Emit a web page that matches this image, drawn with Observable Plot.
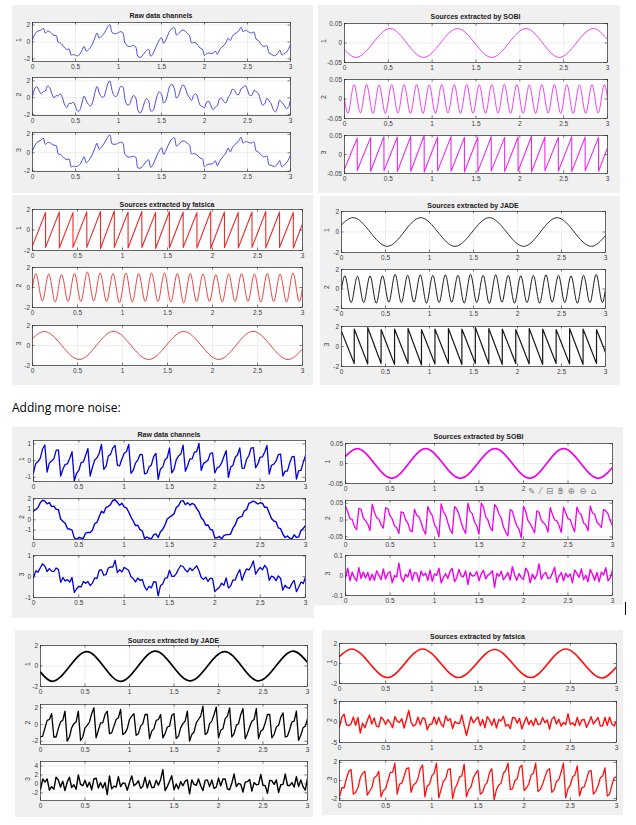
<!DOCTYPE html>
<html><head><meta charset="utf-8">
<script src="https://cdn.jsdelivr.net/npm/d3@7"></script>
<script src="https://cdn.jsdelivr.net/npm/@observablehq/plot@0.6"></script>
<style>
body{margin:0;background:#fff;}
#page{position:relative;width:636px;height:825px;overflow:hidden;font-family:"Liberation Sans",Arial,sans-serif;}
.panel{position:absolute;background:#f0f0f0;}
.title{position:absolute;font-weight:bold;font-size:7px;line-height:9px;color:#1a1a1a;transform:translateX(-50%);white-space:nowrap;}
.note{position:absolute;left:12px;top:399px;font-family:"Open Sans",sans-serif;font-size:12px;color:#000;}
.tools{position:absolute;left:528px;top:486px;font-family:"DejaVu Sans",sans-serif;font-size:8.5px;line-height:10px;color:#808080;letter-spacing:1px;white-space:nowrap;}
.cursor{position:absolute;left:625px;top:602px;width:1px;height:13px;background:#000;}
</style></head><body><div id="page">
<div class="note">Adding more noise:</div>
</div>
<script>
// ---------- shared axes data ----------
const xTicks = [0, 0.5, 1, 1.5, 2, 2.5, 3];
// sample times of the dense traces (every 0.025 s)
const sampleX = Array.from({length: 121}, (_, i) => Math.round(i * 25) / 1000);
// sawtooth jump times
const sawJumps = [0.145,0.298,0.45,0.603,0.756,0.909,1.062,1.215,1.368,1.521,1.674,1.827,1.98,2.133,2.286,2.439,2.592,2.745,2.898];
// slow sine extrema (with ends)
const slowExtX = [0,0.13,0.52,0.9,1.29,1.68,2.07,2.45,2.84,3];
// fast sine extrema (with ends)
const fastExtX = [0,0.038,0.109,0.181,0.252,0.324,0.395,0.466,0.538,0.609,0.680,0.752,0.823,0.895,0.966,1.038,1.109,1.180,1.252,1.323,1.394,1.466,1.537,1.609,1.680,1.752,1.823,1.894,1.966,2.037,2.108,2.180,2.251,2.323,2.394,2.466,2.537,2.608,2.680,2.751,2.823,2.894,2.965,3];

// ---------- top half: raw channels ----------
const raw1 = [0.29,0.87,1.22,1.33,1.41,1.63,1.05,1.27,1.23,0.99,0.79,0.77,-0.06,-0.11,-0.37,-0.71,-0.89,-0.81,-1.54,-1.48,-1.57,-1.63,-1.43,-1.00,-0.52,-1.10,-0.91,-0.64,-0.14,0.50,1.06,0.48,0.66,0.91,1.33,1.79,2.04,1.12,0.99,0.98,1.11,1.22,1.11,-0.11,-0.42,-0.54,-0.48,-0.43,-0.57,-1.70,-1.81,-1.64,-1.30,-1.00,-0.87,-1.68,-1.39,-0.85,-0.24,0.23,0.51,-0.15,0.27,0.84,1.36,1.62,1.67,0.81,1.00,1.28,1.42,1.29,1.01,0.80,-0.11,-0.05,-0.13,-0.41,-0.72,-0.83,-1.59,-1.38,-1.30,-1.35,-1.33,-1.05,-1.45,-0.94,-0.61,-0.40,-0.09,0.44,0.18,0.70,0.96,1.10,1.33,1.73,1.21,1.38,1.28,1.11,1.07,1.18,0.34,0.18,-0.17,-0.46,-0.53,-0.43,-1.28,-1.41,-1.59,-1.61,-1.36,-0.96,-1.54,-1.38,-1.23,-0.87,-0.29];
const raw2 = [0.11,1.05,1.32,0.89,0.47,0.72,0.81,1.40,1.21,0.48,0.00,0.26,0.21,0.46,-0.05,-0.85,-1.15,-0.67,-0.68,-0.53,-1.05,-1.60,-1.46,-0.62,0.20,-0.36,-0.77,-0.99,-0.46,0.58,1.33,0.60,0.15,0.07,0.71,1.62,1.99,0.88,0.24,0.15,0.71,1.33,1.29,-0.14,-0.83,-0.81,-0.20,0.27,0.01,-1.41,-1.83,-1.44,-0.60,-0.11,-0.35,-1.55,-1.53,-0.74,0.26,0.70,0.43,-0.62,-0.32,0.60,1.45,1.57,1.05,-0.03,0.30,1.08,1.54,1.20,0.43,0.03,-0.32,0.31,0.45,-0.14,-0.90,-1.05,-1.18,-0.50,-0.42,-0.95,-1.41,-1.12,-0.91,-0.12,-0.06,-0.47,-0.60,0.04,0.38,1.02,0.88,0.41,0.39,1.08,1.23,1.45,0.93,0.29,0.28,0.88,0.72,0.53,-0.25,-0.86,-0.72,-0.06,-0.36,-0.70,-1.40,-1.67,-1.14,-0.27,-0.55,-0.85,-1.29,-1.12,-0.24];
const raw3 = [0.20,0.73,1.09,1.25,1.38,1.60,0.90,1.10,1.10,0.94,0.80,0.79,-0.15,-0.19,-0.39,-0.64,-0.76,-0.69,-1.54,-1.47,-1.50,-1.48,-1.28,-0.88,-0.44,-1.11,-0.87,-0.57,-0.09,0.50,1.03,0.37,0.60,0.88,1.27,1.69,1.94,0.97,0.92,0.93,1.05,1.15,1.07,-0.17,-0.40,-0.49,-0.44,-0.40,-0.49,-1.64,-1.69,-1.53,-1.22,-0.93,-0.76,-1.61,-1.31,-0.81,-0.24,0.22,0.53,-0.18,0.23,0.75,1.23,1.51,1.62,0.71,0.90,1.15,1.28,1.21,1.01,0.86,-0.15,-0.10,-0.16,-0.37,-0.59,-0.66,-1.54,-1.35,-1.25,-1.24,-1.16,-0.87,-1.42,-0.95,-0.61,-0.34,-0.01,0.50,0.08,0.57,0.87,1.06,1.32,1.68,1.03,1.21,1.17,1.07,1.07,1.16,0.21,0.09,-0.17,-0.39,-0.44,-0.36,-1.31,-1.38,-1.49,-1.46,-1.22,-0.86,-1.55,-1.35,-1.14,-0.78,-0.24];

// ---------- top half: SOBI ----------
const sobiSlow = [-0.018,-0.037,0.037,-0.037,0.037,-0.037,0.037,-0.037,0.037,0.009];
const sobiFast = [0,-0.037,0.037,-0.036,0.037,-0.037,0.036,-0.037,0.037,-0.036,0.037,-0.037,0.037,-0.037,0.036,-0.037,0.037,-0.036,0.037,-0.037,0.037,-0.037,0.036,-0.037,0.037,-0.036,0.037,-0.037,0.037,-0.037,0.036,-0.037,0.037,-0.036,0.037,-0.037,0.037,-0.037,0.036,-0.037,0.037,-0.036,0.037,0];
const sobiSawHi = [0.043,0.045,0.047,0.046,0.048,0.05,0.046,0.047,0.045,0.046,0.047,0.045,0.046,0.048,0.046,0.045,0.047,0.046,0.045];
const sobiSawLo = [-0.042,-0.044,-0.043,-0.045,-0.044,-0.046,-0.043,-0.044,-0.046,-0.045,-0.043,-0.045,-0.044,-0.046,-0.043,-0.044,-0.045,-0.043,-0.044];
const sobiSawEnds = [-0.038, 0.018];

// ---------- top half: fatsica ----------
const fatSawHi = [1.7,1.75,1.7,1.75,1.8,1.85,1.75,1.8,1.7,1.8,1.75,1.7,1.8,1.75,1.7,1.75,1.8,1.75,1.7];
const fatSawLo = [-1.7,-1.75,-1.7,-1.7,-1.8,-1.7,-1.75,-1.7,-1.8,-1.75,-1.7,-1.75,-1.8,-1.7,-1.75,-1.7,-1.75,-1.7,-1.75];
const fatSawEnds = [-1.55, 0.6];
const fatFast = [0,1.4,-1.35,1.35,-1.45,1.3,-1.4,1.4,-1.4,1.55,-1.35,1.45,-1.4,1.4,-1.5,1.45,-1.45,1.4,-1.4,1.45,-1.4,1.45,-1.45,1.4,-1.55,1.4,-1.4,1.35,-1.4,1.3,-1.45,1.35,-1.4,1.4,-1.4,1.35,-1.45,1.4,-1.4,1.35,-1.45,1.45,-1.4,0];
const fatSlow = [0.7,1.4,-1.4,1.42,-1.4,1.4,-1.4,1.42,-1.4,-0.35];

// ---------- top half: JADE ----------
const jadeSlow = [0.7,1.4,-1.4,1.4,-1.4,1.4,-1.4,1.4,-1.4,-0.35];
const jadeFast = [0,1.35,-1.4,1.3,-1.4,1.35,-1.45,1.35,-1.35,1.5,-1.4,1.4,-1.35,1.45,-1.45,1.4,-1.4,1.45,-1.35,1.4,-1.45,1.5,-1.4,1.4,-1.5,1.45,-1.35,1.4,-1.45,1.35,-1.4,1.4,-1.45,1.45,-1.35,1.4,-1.4,1.35,-1.45,1.4,-1.4,1.5,-1.4,0];
const jadeSawLo = [-1.7,-1.75,-1.7,-1.8,-1.7,-1.85,-1.75,-1.7,-1.8,-1.7,-1.75,-1.8,-1.7,-1.75,-1.8,-1.7,-1.75,-1.8,-1.7];
const jadeSawHi = [1.75,1.9,1.7,1.75,1.8,1.7,1.75,1.8,1.75,1.9,1.8,1.75,1.7,1.8,1.75,1.7,1.8,1.75,1.7];
const jadeSawEnds = [1.5, -0.6];

// ---------- bottom half (more noise): raw channels ----------
const nRaw1 = [-0.74,-0.17,-0.06,0.15,0.69,0.93,-0.69,-0.14,-0.03,0.12,0.61,0.64,-0.93,-0.50,-0.22,-0.19,0.14,0.53,-1.21,-0.76,-0.59,-0.12,-0.08,0.32,0.72,-0.92,-0.40,0.03,0.16,0.44,0.96,-0.52,-0.35,0.27,0.37,0.76,0.90,-0.27,-0.31,0.09,0.44,0.53,0.97,-0.76,-0.58,-0.15,0.03,0.37,0.35,-0.80,-0.75,-0.38,-0.26,0.23,0.43,-1.12,-0.50,-0.39,0.04,0.17,0.75,-0.73,-0.51,0.06,0.28,0.39,0.92,-0.64,-0.31,0.10,0.10,0.50,0.54,1.03,-0.59,-0.17,-0.09,0.04,0.43,0.46,-0.74,-0.44,-0.37,-0.14,0.24,0.59,-1.01,-0.39,-0.28,0.20,0.33,0.76,-0.46,-0.45,0.07,0.29,0.75,0.78,-0.43,-0.20,0.21,0.22,0.51,0.90,-0.81,-0.28,-0.21,-0.03,0.35,0.39,-0.92,-0.63,-0.63,-0.16,0.22,0.25,-1.10,-0.60,-0.58,-0.11,0.31];
const nRaw2 = [0.83,0.99,1.19,1.65,1.88,1.80,1.54,1.66,1.27,1.32,1.01,0.97,0.05,-0.15,-0.33,-0.86,-0.89,-1.00,-1.74,-1.88,-1.70,-1.75,-1.78,-1.28,-1.23,-1.22,-1.01,-0.37,-0.26,0.31,0.82,0.66,1.21,1.27,1.48,1.86,1.93,1.67,1.39,1.60,1.25,1.14,0.75,0.27,-0.12,-0.56,-0.53,-0.96,-1.07,-1.81,-1.66,-1.77,-1.83,-1.45,-1.36,-1.70,-1.15,-0.93,-0.50,0.07,0.24,0.40,0.59,1.19,1.35,1.80,1.84,1.45,1.65,1.41,1.58,1.47,1.07,0.77,0.20,-0.04,-0.53,-0.50,-0.94,-0.99,-1.74,-1.73,-1.60,-1.85,-1.53,-1.43,-1.43,-1.37,-0.80,-0.47,0.10,0.26,0.33,0.86,0.97,1.57,1.68,1.81,1.68,1.52,1.64,1.60,1.20,1.20,0.65,0.13,-0.12,-0.20,-0.78,-0.86,-1.37,-1.71,-1.56,-1.77,-1.83,-1.45,-1.70,-1.65,-1.04,-0.83,-0.54];
const nRaw3 = [-0.04,0.28,0.22,0.43,0.62,0.51,0.25,0.39,0.27,0.25,0.42,0.34,-0.27,-0.04,-0.21,-0.14,-0.26,-0.04,-0.75,-0.59,-0.46,-0.49,-0.23,-0.32,-0.23,-0.43,-0.31,-0.06,-0.09,0.32,0.33,0.07,0.11,0.42,0.47,0.46,0.79,0.20,0.34,0.23,0.45,0.38,0.30,0.00,-0.09,-0.25,-0.06,-0.18,-0.13,-0.48,-0.64,-0.46,-0.54,-0.24,-0.25,-0.92,-0.44,-0.35,-0.07,-0.06,0.31,0.02,0.02,0.15,0.37,0.54,0.49,0.32,0.23,0.42,0.30,0.40,0.53,0.29,-0.04,-0.13,-0.02,-0.23,-0.07,-0.10,-0.72,-0.60,-0.51,-0.31,-0.41,-0.06,-0.54,-0.44,-0.16,-0.16,0.13,0.34,-0.18,0.14,0.38,0.32,0.49,0.76,0.12,0.31,0.45,0.33,0.55,0.40,-0.17,0.03,-0.02,-0.19,0.04,-0.08,-0.64,-0.41,-0.53,-0.56,-0.32,-0.18,-0.72,-0.51,-0.25,-0.33,-0.01];

// ---------- bottom half: SOBI ----------
const nSobiSlow = [0.018,0.037,-0.037,0.037,-0.037,0.037,-0.037,0.037,-0.037,-0.01];
const nSobi2 = [0.042,0.024,0.004,0.002,-0.019,-0.029,0.035,0.032,0.006,-0.002,-0.012,-0.031,0.047,0.023,0.007,0.002,-0.014,-0.024,0.036,0.034,0.013,0.003,-0.017,-0.023,-0.040,0.024,0.022,0.001,-0.009,-0.031,-0.035,0.032,0.014,0.010,-0.008,-0.029,-0.042,0.040,0.024,0.013,-0.014,-0.025,-0.050,0.048,0.024,0.015,-0.008,-0.029,-0.040,0.040,0.033,0.017,-0.008,-0.027,-0.040,0.050,0.025,0.019,-0.006,-0.017,-0.042,0.050,0.039,0.009,0.000,-0.021,-0.032,0.046,0.037,0.018,0.006,-0.021,-0.036,-0.047,0.031,0.026,0.002,-0.017,-0.028,-0.053,0.041,0.026,-0.002,-0.011,-0.024,-0.038,0.027,0.023,-0.001,-0.008,-0.016,-0.036,0.037,0.017,0.000,-0.002,-0.017,-0.037,0.038,0.020,0.004,0.001,-0.019,-0.035,0.038,0.022,0.015,-0.009,-0.014,-0.032,0.041,0.021,0.017,-0.006,-0.014,-0.022,0.031,0.027,0.018,-0.002,-0.017];
const nSobi3 = [-0.010,0.037,-0.026,0.017,-0.011,-0.027,0.039,-0.015,0.017,-0.013,0.015,-0.024,0.006,-0.024,0.023,0.001,-0.021,0.033,-0.018,0.011,0.019,-0.037,-0.001,-0.008,0.062,-0.009,-0.030,0.006,-0.008,0.032,-0.024,0.015,0.012,-0.030,0.022,-0.001,0.012,-0.024,0.027,-0.029,0.008,0.001,0.037,-0.037,-0.011,0.009,-0.015,0.021,0.035,-0.031,-0.012,0.030,-0.003,-0.006,0.023,-0.044,0.015,-0.003,0.000,0.020,-0.026,0.008,0.026,-0.017,0.002,0.009,0.024,-0.060,0.010,-0.004,0.021,-0.021,-0.006,0.015,-0.023,0.044,0.003,-0.024,0.009,-0.011,-0.019,0.037,0.019,-0.037,0.007,-0.018,0.003,0.058,-0.019,0.005,0.015,-0.015,-0.012,0.012,0.041,-0.035,-0.003,0.015,-0.027,0.011,-0.008,0.008,-0.037,0.028,0.011,-0.009,0.033,-0.021,0.001,-0.031,0.030,0.006,-0.024,0.015,-0.032,0.017,0.003,0.039,-0.027,-0.011,0.026];

// ---------- bottom half: JADE ----------
const nJadeSlow = [-0.6,-1.5,1.4,-1.5,1.45,-1.45,1.4,-1.45,1.45,0.35];
const nJade2 = [-1.5,-1.4,-0.4,0.5,0.6,1.3,-1.5,-1.5,-0.5,0.3,0.5,1.6,-2.0,-1.5,-0.4,0.1,0.3,1.6,-1.9,-1.5,-0.4,-0.1,0.3,1.3,2.0,-1.6,-0.7,0.2,0.2,1.2,1.6,-1.1,-1.0,-0.2,0.6,0.8,1.8,-1.2,-1.0,-0.5,0.6,1.0,1.3,-1.3,-1.1,-0.2,0.1,1.2,1.2,-1.7,-0.8,-0.5,0.5,0.6,1.2,-1.6,-1.1,-0.3,-0.2,1.1,1.3,-1.7,-1.4,-0.4,0.1,0.4,1.6,-2.0,-1.2,-0.9,0.2,0.6,1.0,2.2,-1.2,-1.0,0.1,0.4,1.2,2.1,-1.6,-0.7,-0.5,0.7,1.0,2.0,-1.5,-1.1,-0.1,0.1,1.2,1.9,-1.7,-1.1,-0.3,0.4,0.6,1.9,-1.7,-0.8,-0.6,0.2,1.2,1.2,-1.6,-1.2,-0.3,-0.1,0.9,1.4,-1.5,-1.4,-0.6,0.3,0.4,1.6,-1.9,-1.3,-0.4,-0.2,0.7];
const nJade3 = [-1.2,1.1,0.4,1.1,-1.4,-0.6,-1.2,1.5,0.9,-0.7,0.6,-1.5,0.4,1.5,-0.8,-0.2,-1.2,2.0,-0.1,-0.4,0.8,-0.7,0.4,-1.3,1.1,1.3,-0.9,0.3,-0.9,0.3,-2.4,1.8,-1.1,-0.5,-0.7,1.6,-0.6,0.2,0.1,-1.4,0.3,1.8,-0.4,0,0.7,-1.0,-0.5,1.5,-0.9,0.8,-0.8,-0.8,0.8,-0.3,1.0,3.2,-1.5,-0.6,0.6,1.8,-1.3,0,-1.1,0.5,-0.4,0.6,0.9,-2.2,0.9,-0.1,-0.3,1.1,-0.4,-1.5,0.8,0.9,-0.6,0.9,-1.0,-0.7,1.3,-0.4,1.1,1.1,-1.1,-1.3,0.2,2.2,-0.6,0.1,-0.1,-1.8,0.4,0.5,1.0,-1.6,0.3,-0.2,-0.1,2.1,-0.3,-0.4,-2.1,0.8,0.7,-0.1,0.9,-1.9,-0.2,-0.1,2.2,-0.3,-0.4,0.3,-0.7,1.6,-0.6,0.9,-0.6,-1.4,1.3];

// ---------- bottom half: fatsica ----------
const nFatSlow = [0.7,1.45,-1.4,1.45,-1.4,1.4,-1.4,1.45,-1.45,-0.35];
const nFat2 = [-1.2,1.2,1.9,-0.7,-0.9,-0.5,1.2,-0.8,1.1,-2.7,-0.3,-1.4,0.3,1.7,-0.5,1.0,-1.0,-1.2,1.2,0.6,-0.6,0.6,-0.2,-1.4,1.3,0.2,-0.1,0.8,-1.5,0.6,2.8,0,-1.0,-0.6,1.2,-0.7,1.0,0.8,-1.9,-0.6,-0.5,1.2,-0.6,1.1,-0.5,-1.2,1.5,0.3,0.8,-1.6,0.1,-0.3,-0.4,1.7,-0.9,-3.3,-1.0,1.3,-0.2,0.6,1.2,-0.9,0.6,-1.4,1.3,0.5,-0.8,0.8,-1.5,0.6,0.3,1.4,-1.0,-0.6,-1.6,1.1,1.0,-0.3,0.9,-1.7,-0.1,1.2,-0.6,0.4,-0.9,0.9,-0.6,-0.5,1.1,-0.2,0.5,-1.7,0.7,1.3,-0.5,0.7,-1.0,-0.1,-0.6,2.0,-0.6,-0.2,-0.9,1.1,-0.8,0.5,0.6,-1.3,-0.1,1.3,-0.5,0.3,1.1,-1.0,-0.9,1.1,-0.8,1.2,-0.5,-1.0,0.3];
const nFat3 = [-1.8,-0.8,-0.8,0.2,1.0,1.2,-1.5,-1.3,-0.8,0.3,0.8,1.0,-1.6,-1.2,-0.8,0.3,0.5,1.0,-1.8,-1.1,-0.9,0.0,0.9,0.9,1.9,-1.5,-0.4,-0.3,0.5,1.3,1.4,-1.3,-0.5,-0.3,0.2,1.3,1.7,-1.8,-0.6,-0.4,0.5,0.8,1.9,-1.9,-1.0,-0.1,0.2,1.2,1.3,-2.0,-0.9,-0.4,0.4,0.5,1.8,-1.8,-1.0,-0.7,0.3,0.8,1.1,-1.5,-1.3,-0.5,-0.2,0.9,1.3,-2.1,-1.0,-0.5,-0.3,0.8,1.1,1.9,-1.0,-0.9,0.0,0.2,1.4,1.7,-1.1,-0.8,-0.4,0.6,0.8,1.9,-1.2,-1.0,-0.4,0.4,1.1,1.3,-1.3,-1.0,-0.1,0.1,0.9,1.9,-1.9,-0.9,-0.5,0.4,0.6,1.6,-1.7,-0.8,-0.7,0.1,1.0,1.1,-1.5,-1.2,-0.6,0.3,0.5,1.4,-1.7,-1.5,-0.5,0.3,0.4];

// ---------- table builders ----------
const fromSamples = ys => ys.map((y, i) => ({x: sampleX[i], y}));
const fromKeys = (xs, ys) => xs.slice(0, ys.length).map((x, i) => ({x, y: ys[i]}));
function fromSaw(first, second, ends) {
  const pts = [{x: 0, y: ends[0]}];
  sawJumps.forEach((t, i) => { pts.push({x: t, y: first[i]}, {x: t, y: second[i]}); });
  pts.push({x: 3, y: ends[1]});
  return pts;
}

// ---------- layout ----------
const C = {blue:"#3535dc", mag:"#ea2cea", red:"#e6302e", blk:"#1a1a1a",
           nblue:"#0000e0", nmag:"#ee00ee", nred:"#ff1010", nblk:"#000000"};
const panels = [
  {title:"Raw data channels", bg:[12,5,301,188], x:[32,290], ty:15, lo:14, subs:[
    {y:[22,61], d:[-2.3,2.3], t:[-2,0,2], data:fromSamples(raw1), c:C.blue, sw:0.9, cv:"catmull-rom"},
    {y:[77,115], d:[-2.1,2.4], t:[-2,0,2], data:fromSamples(raw2), c:C.blue, sw:0.9, cv:"catmull-rom"},
    {y:[132,171], d:[-2.05,2.2], t:[-2,0,2], data:fromSamples(raw3), c:C.blue, sw:0.9, cv:"catmull-rom"}]},
  {title:"Sources extracted by SOBI", bg:[318,5,302,188], x:[344,607], ty:16, lo:21, subs:[
    {y:[23,62], d:[-0.05,0.05], t:[-0.05,0,0.05], data:fromKeys(slowExtX, sobiSlow), c:C.mag, sw:0.9, cv:"monotone-x"},
    {y:[79,118], d:[-0.05,0.05], t:[-0.05,0,0.05], data:fromKeys(fastExtX, sobiFast), c:C.mag, sw:0.9, cv:"monotone-x"},
    {y:[135,173], d:[-0.05,0.05], t:[-0.05,0,0.05], data:fromSaw(sobiSawHi, sobiSawLo, sobiSawEnds), c:C.mag, sw:1.1, cv:"linear"}]},
  {title:"Sources extracted by fatsica", bg:[12,195,301,190], x:[32,302], ty:204, lo:14, subs:[
    {y:[209,250], d:[-2,2], t:[-2,0,2], data:fromSaw(fatSawHi, fatSawLo, fatSawEnds), c:C.red, sw:1.1, cv:"linear"},
    {y:[267,307], d:[-2,2], t:[-2,0,2], data:fromKeys(fastExtX, fatFast), c:C.red, sw:0.9, cv:"monotone-x"},
    {y:[325,365], d:[-2,2], t:[-2,0,2], data:fromKeys(slowExtX, fatSlow), c:C.red, sw:0.9, cv:"monotone-x"}]},
  {title:"Sources extracted by JADE", bg:[320,196,300,189], x:[341,605], ty:205, lo:15, subs:[
    {y:[211,252], d:[-2,2], t:[-2,0,2], data:fromKeys(slowExtX, jadeSlow), c:C.blk, sw:0.9, cv:"monotone-x"},
    {y:[269,308], d:[-2,2], t:[-2,0,2], data:fromKeys(fastExtX, jadeFast), c:C.blk, sw:1.0, cv:"monotone-x"},
    {y:[326,366], d:[-2,2], t:[-2,0,2], data:fromSaw(jadeSawLo, jadeSawHi, jadeSawEnds), c:C.blk, sw:1.2, cv:"linear"}]},
  {title:"Raw data channels", bg:[12,427,302,191], x:[33,305], ty:434, lo:12, subs:[
    {y:[440,481], d:[-1.25,1.2], t:[-1,0,1], data:fromSamples(nRaw1), c:C.nblue, sw:1.3, cv:"linear"},
    {y:[498,539], d:[-1.9,2.05], t:[-1,0,1,2], data:fromSamples(nRaw2), c:C.nblue, sw:1.4, cv:"linear"},
    {y:[555,597], d:[-1,1.02], t:[-1,0,1], data:fromSamples(nRaw3), c:C.nblue, sw:1.3, cv:"linear"}]},
  {title:"Sources extracted by SOBI", bg:[314,427,309,178], x:[345,612], ty:436, lo:18, subs:[
    {y:[443,483], d:[-0.05,0.05], t:[-0.05,0,0.05], data:fromKeys(slowExtX, nSobiSlow), c:C.nmag, sw:1.7, cv:"monotone-x", xl:[0,0.5,1,1.5,2]},
    {y:[500,539], d:[-0.058,0.058], t:[-0.05,0,0.05], data:fromSamples(nSobi2), c:C.nmag, sw:1.3, cv:"linear"},
    {y:[555,595], d:[-0.1,0.1], t:[-0.1,0,0.1], data:fromSamples(nSobi3), c:C.nmag, sw:1.4, cv:"linear"}]},
  {title:"Sources extracted by JADE", bg:[15,630,298,187], x:[40,307], ty:640, lo:13, subs:[
    {y:[645,686], d:[-2,2], t:[-2,0,2], data:fromKeys(slowExtX, nJadeSlow), c:C.nblk, sw:1.7, cv:"monotone-x"},
    {y:[704,744], d:[-2.4,2.4], t:[-2,0,2], data:fromSamples(nJade2), c:C.nblk, sw:1.3, cv:"linear"},
    {y:[761,800], d:[-3.7,5], t:[-2,0,2,4], data:fromSamples(nJade3), c:C.nblk, sw:1.4, cv:"linear"}]},
  {title:"Sources extracted by fatsica", bg:[322,630,301,185], x:[339,616], ty:636, lo:10, subs:[
    {y:[643,683], d:[-2,2], t:[-2,0,2], data:fromKeys(slowExtX, nFatSlow), c:C.nred, sw:1.7, cv:"monotone-x"},
    {y:[701,742], d:[-5,5], t:[-5,0,5], data:fromSamples(nFat2), c:C.nred, sw:1.4, cv:"linear"},
    {y:[760,800], d:[-2.2,2.2], t:[-2,0,2], data:fromSamples(nFat3), c:C.nred, sw:1.3, cv:"linear"}]}
];

const page = document.getElementById("page");
const fmt = d => String(d);
const mL = 26, mR = 3, mT = 2, mB = 11;
const tickLen = 2.5;

for (const p of panels) {
  const bg = document.createElement("div");
  bg.className = "panel";
  Object.assign(bg.style, {left:p.bg[0]+"px", top:p.bg[1]+"px", width:p.bg[2]+"px", height:p.bg[3]+"px"});
  page.appendChild(bg);
  const tt = document.createElement("div");
  tt.className = "title";
  tt.textContent = p.title;
  Object.assign(tt.style, {left:((p.x[0]+p.x[1])/2)+"px", top:(p.ty-4.5)+"px"});
  page.appendChild(tt);
}
panels.forEach((p) => {
  p.subs.forEach((s, k) => {
    const w = p.x[1]-p.x[0], h = s.y[1]-s.y[0];
    const tk = {stroke: "#2b2b2b", strokeWidth: 0.6};
    const svg = Plot.plot({
      width: w+mL+mR, height: h+mT+mB,
      marginLeft: mL, marginRight: mR, marginTop: mT, marginBottom: mB,
      x: {domain: [0, 3], label: null},
      y: {domain: s.d, label: null},
      style: {background: "transparent", fontFamily: "Liberation Sans, Arial, sans-serif", fontSize: "6.5px", color: "#404040", overflow: "visible"},
      marks: [
        Plot.frame({fill: "white", stroke: "none"}),
        Plot.gridX(xTicks, {stroke: "#e2e2e2", strokeOpacity: 1, strokeWidth: 0.6}),
        Plot.gridY(s.t, {stroke: "#e2e2e2", strokeOpacity: 1, strokeWidth: 0.6}),
        Plot.line(s.data, {x: "x", y: "y", stroke: s.c, strokeWidth: s.sw, curve: s.cv, clip: true}),
        // inward tick marks on all four sides (MATLAB box style)
        Plot.tickX(xTicks, {x: d => d, ...tk, insetTop: h - tickLen}),
        Plot.tickX(xTicks, {x: d => d, ...tk, insetBottom: h - tickLen}),
        Plot.tickY(s.t, {y: d => d, ...tk, insetRight: w - tickLen}),
        Plot.tickY(s.t, {y: d => d, ...tk, insetLeft: w - tickLen}),
        Plot.frame({stroke: "#2b2b2b", strokeWidth: 0.7}),
        Plot.axisX(s.xl || xTicks, {tickSize: 0, tickPadding: 2.5, tickFormat: fmt, label: null}),
        Plot.axisY(s.t, {tickSize: 0, tickPadding: 2.5, tickFormat: fmt, label: null}),
        Plot.text([String(k+1)], {text: d => d, frameAnchor: "left", dx: -p.lo, rotate: -90, fontSize: 7, fill: "#404040"})
      ]
    });
    Object.assign(svg.style, {position: "absolute", left: (p.x[0]-mL)+"px", top: (s.y[0]-mT)+"px"});
    page.appendChild(svg);
  });
});

const tools = document.createElement("div");
tools.className = "tools";
tools.textContent = "\u270E \u2044 \u229F \u270B\uFE0E \u2295 \u2296 \u2302";
page.appendChild(tools);
const cur = document.createElement("div");
cur.className = "cursor";
page.appendChild(cur);
</script></body></html>
